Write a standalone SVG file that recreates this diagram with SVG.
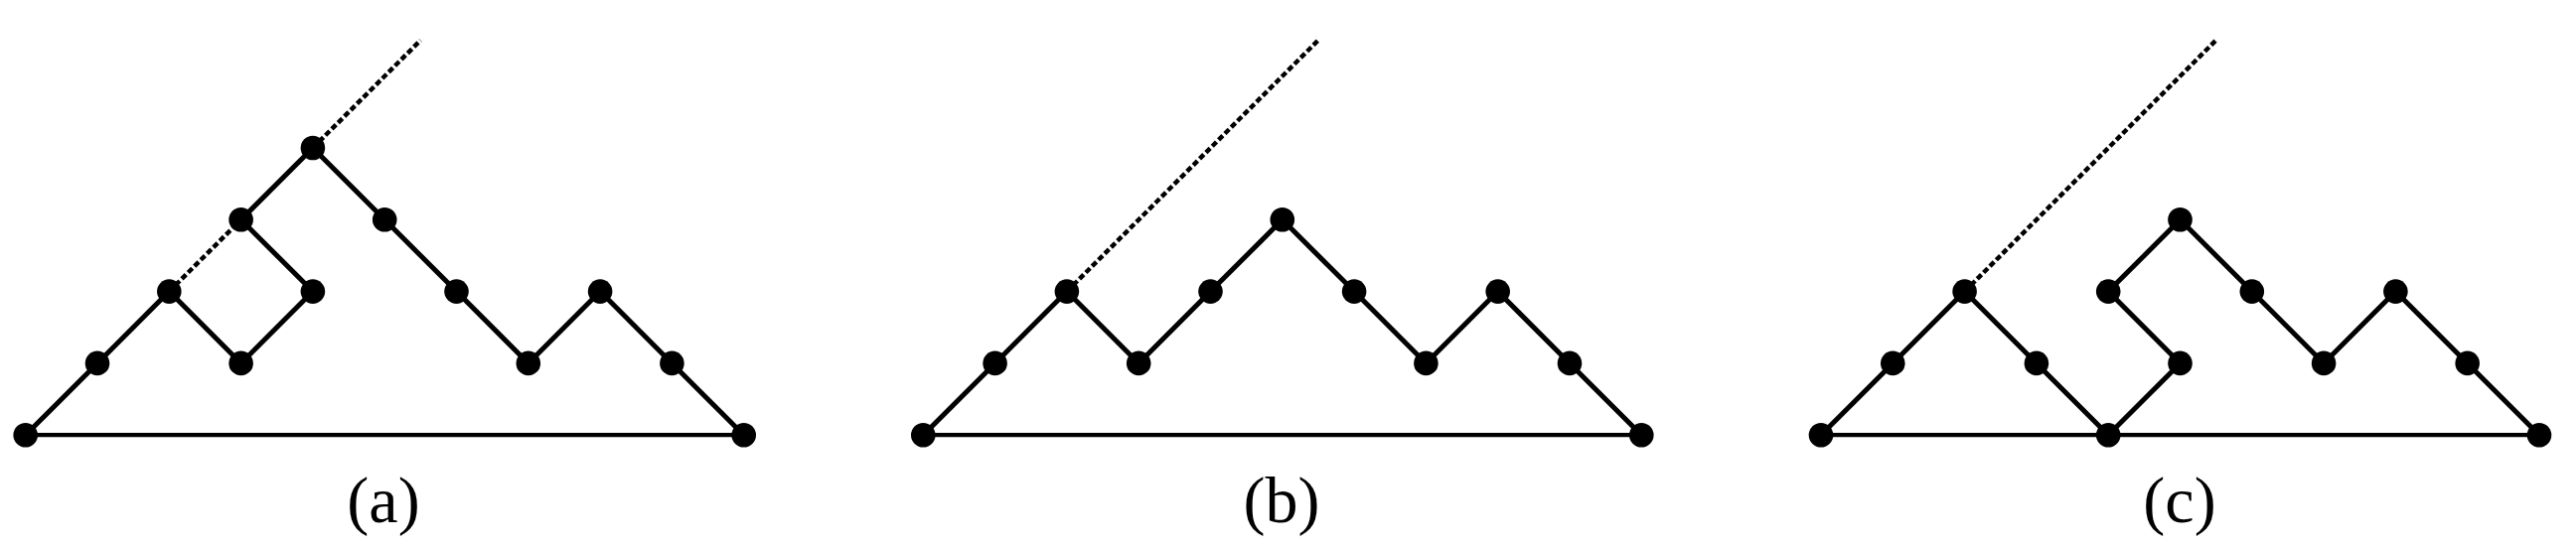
<svg xmlns="http://www.w3.org/2000/svg" width="2593" height="551" viewBox="0 0 2593 551">
<style>
.e{stroke:#000;stroke-width:5;fill:none;stroke-linecap:butt}
.b{stroke:#000;stroke-width:4.2;fill:none}
.d{stroke:#000;stroke-width:4.5;fill:none;stroke-dasharray:6 3}
.n{fill:#000}
.lbl{font-family:"Liberation Serif",serif;font-size:66px;fill:#000;text-anchor:middle}
</style>
<rect width="2593" height="551" fill="#fff"/>
<g id="connectors">
<g transform="translate(25.7,438.2)">
<line class="b" x1="0" y1="0" x2="723" y2="0"/>
<polyline class="e" points="0,0 72.3,-72.3 144.6,-144.6"/>
<line class="d" x1="144.6" y1="-144.6" x2="216.9" y2="-216.9"/>
<line class="e" x1="216.9" y1="-216.9" x2="289.2" y2="-289.2"/>
<line class="d" x1="289.2" y1="-289.2" x2="397.65" y2="-397.65"/>
<polyline class="e" points="144.6,-144.6 216.9,-72.3 289.2,-144.6 216.9,-216.9"/>
<polyline class="e" points="289.2,-289.2 361.5,-216.9 433.8,-144.6 506.1,-72.3 578.4,-144.6 650.7,-72.3 723,0"/>
</g>
<g transform="translate(929.3,438.2)">
<line class="b" x1="0" y1="0" x2="723" y2="0"/>
<polyline class="e" points="0,0 72.3,-72.3 144.6,-144.6 216.9,-72.3 289.2,-144.6 361.5,-216.9 433.8,-144.6 506.1,-72.3 578.4,-144.6 650.7,-72.3 723,0"/>
<line class="d" x1="144.6" y1="-144.6" x2="397.65" y2="-397.65"/>
</g>
<g transform="translate(1833,438.2)">
<line class="b" x1="0" y1="0" x2="723" y2="0"/>
<polyline class="e" points="0,0 72.3,-72.3 144.6,-144.6 216.9,-72.3 289.2,0 361.5,-72.3 289.2,-144.6 361.5,-216.9 433.8,-144.6 506.1,-72.3 578.4,-144.6 650.7,-72.3 723,0"/>
<line class="d" x1="144.6" y1="-144.6" x2="397.65" y2="-397.65"/>
</g>
</g>
<g id="nodes-a">
<g id="a0"><circle class="n" cx="25.7" cy="438.2" r="12.3"/></g>
<g id="a1"><circle class="n" cx="98" cy="365.9" r="12.3"/></g>
<g id="a2"><circle class="n" cx="170.3" cy="293.6" r="12.3"/></g>
<g id="a3"><circle class="n" cx="242.6" cy="221.3" r="12.3"/></g>
<g id="a4"><circle class="n" cx="314.9" cy="149" r="12.3"/></g>
<g id="a5"><circle class="n" cx="242.6" cy="365.9" r="12.3"/></g>
<g id="a6"><circle class="n" cx="314.9" cy="293.6" r="12.3"/></g>
<g id="a7"><circle class="n" cx="387.2" cy="221.3" r="12.3"/></g>
<g id="a8"><circle class="n" cx="459.5" cy="293.6" r="12.3"/></g>
<g id="a9"><circle class="n" cx="531.8" cy="365.9" r="12.3"/></g>
<g id="a10"><circle class="n" cx="604.1" cy="293.6" r="12.3"/></g>
<g id="a11"><circle class="n" cx="676.4" cy="365.9" r="12.3"/></g>
<g id="a12"><circle class="n" cx="748.7" cy="438.2" r="12.3"/></g>
</g>
<g id="nodes-b">
<g id="b0"><circle class="n" cx="929.3" cy="438.2" r="12.3"/></g>
<g id="b1"><circle class="n" cx="1001.6" cy="365.9" r="12.3"/></g>
<g id="b2"><circle class="n" cx="1073.9" cy="293.6" r="12.3"/></g>
<g id="b3"><circle class="n" cx="1146.2" cy="365.9" r="12.3"/></g>
<g id="b4"><circle class="n" cx="1218.5" cy="293.6" r="12.3"/></g>
<g id="b5"><circle class="n" cx="1290.8" cy="221.3" r="12.3"/></g>
<g id="b6"><circle class="n" cx="1363.1" cy="293.6" r="12.3"/></g>
<g id="b7"><circle class="n" cx="1435.4" cy="365.9" r="12.3"/></g>
<g id="b8"><circle class="n" cx="1507.7" cy="293.6" r="12.3"/></g>
<g id="b9"><circle class="n" cx="1580" cy="365.9" r="12.3"/></g>
<g id="b10"><circle class="n" cx="1652.3" cy="438.2" r="12.3"/></g>
</g>
<g id="nodes-c">
<g id="c0"><circle class="n" cx="1833" cy="438.2" r="12.3"/></g>
<g id="c1"><circle class="n" cx="1905.3" cy="365.9" r="12.3"/></g>
<g id="c2"><circle class="n" cx="1977.6" cy="293.6" r="12.3"/></g>
<g id="c3"><circle class="n" cx="2049.9" cy="365.9" r="12.3"/></g>
<g id="c4"><circle class="n" cx="2122.2" cy="438.2" r="12.3"/></g>
<g id="c5"><circle class="n" cx="2194.5" cy="365.9" r="12.3"/></g>
<g id="c6"><circle class="n" cx="2122.2" cy="293.6" r="12.3"/></g>
<g id="c7"><circle class="n" cx="2194.5" cy="221.3" r="12.3"/></g>
<g id="c8"><circle class="n" cx="2266.8" cy="293.6" r="12.3"/></g>
<g id="c9"><circle class="n" cx="2339.1" cy="365.9" r="12.3"/></g>
<g id="c10"><circle class="n" cx="2411.4" cy="293.6" r="12.3"/></g>
<g id="c11"><circle class="n" cx="2483.7" cy="365.9" r="12.3"/></g>
<g id="c12"><circle class="n" cx="2556" cy="438.2" r="12.3"/></g>
</g>
<g id="labels">
<text class="lbl" x="386" y="526">(a)</text>
<text class="lbl" x="1290" y="526">(b)</text>
<text class="lbl" x="2194" y="526">(c)</text>
</g>
</svg>
